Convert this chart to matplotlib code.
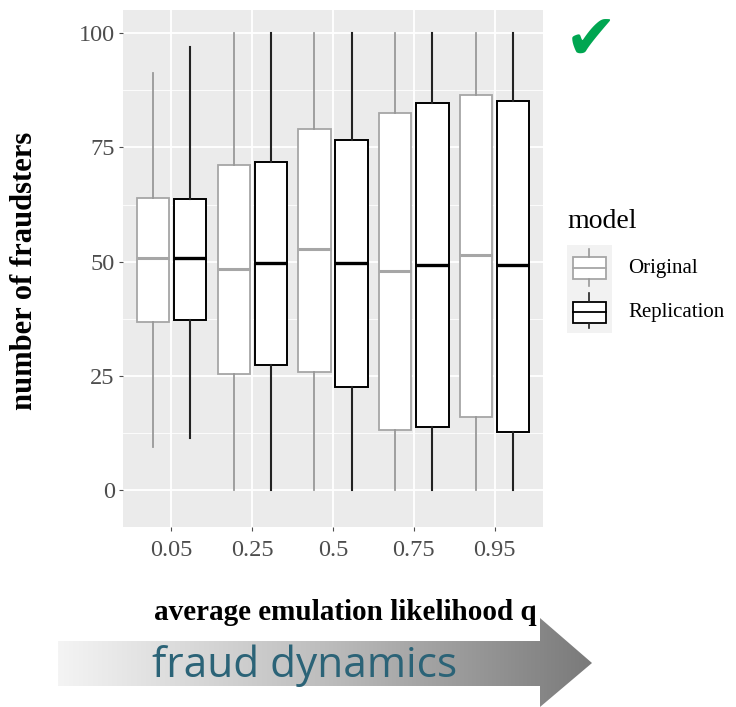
import numpy as np
import matplotlib
matplotlib.use("Agg")
import matplotlib.pyplot as plt
from matplotlib.patches import Rectangle, Polygon
from matplotlib.colors import LinearSegmentedColormap

# boxplot summaries
q_labels = ['0.05', '0.25', '0.5', '0.75', '0.95']
orig_whishi = [91.3, 100, 100, 100, 100]
orig_q3 = [64.0, 71.2, 79.0, 82.6, 86.4]
orig_med = [50.7, 48.4, 52.8, 47.9, 51.4]
orig_q1 = [36.8, 25.3, 25.8, 13.2, 15.9]
orig_whislo = [9.4, 0, 0, 0, 0]

rep_whishi = [97.0, 100, 100, 100, 100]
rep_q3 = [63.8, 71.9, 76.6, 84.7, 85.1]
rep_med = [50.8, 49.8, 49.6, 49.2, 49.2]
rep_q1 = [37.2, 27.4, 22.6, 13.9, 12.8]
rep_whislo = [11.4, 0, 0, 0, 0]

SERIF = ['Liberation Serif', 'DejaVu Serif']
GREY = '#a6a6a6'
GREY_W = '#999999'


def make_stats(lo, q1, med, q3, hi):
    return [dict(whislo=a, q1=b, med=c, q3=d, whishi=e)
            for a, b, c, d, e in zip(lo, q1, med, q3, hi)]


fig = plt.figure(figsize=(7.36, 7.07), dpi=100)
ax = fig.add_axes([123 / 736, 180 / 707, 420 / 736, 517 / 707])
ax.set_facecolor('#ebebeb')

pos = np.arange(len(q_labels))
off = 0.23
width = 0.4

ax.bxp(make_stats(orig_whislo, orig_q1, orig_med, orig_q3, orig_whishi),
       positions=pos - off, widths=width, showfliers=False, showcaps=False,
       patch_artist=True,
       boxprops=dict(facecolor='white', edgecolor=GREY, linewidth=1.3),
       medianprops=dict(color=GREY, linewidth=2.2),
       whiskerprops=dict(color=GREY_W, linewidth=1.3), zorder=3)
ax.bxp(make_stats(rep_whislo, rep_q1, rep_med, rep_q3, rep_whishi),
       positions=pos + off, widths=width, showfliers=False, showcaps=False,
       patch_artist=True,
       boxprops=dict(facecolor='white', edgecolor='black', linewidth=1.4),
       medianprops=dict(color='black', linewidth=2.4),
       whiskerprops=dict(color='#222222', linewidth=1.5), zorder=3)

ax.set_xlim(-0.6, len(q_labels) - 0.4)
ax.set_ylim(-8.1, 105.1)
ax.set_xticks(pos)
ax.set_xticklabels(q_labels)
ax.set_yticks([0, 25, 50, 75, 100])
ax.set_yticks([12.5, 37.5, 62.5, 87.5], minor=True)
ax.grid(True, which='major', color='white', linewidth=1.3, zorder=0)
ax.grid(True, which='minor', axis='y', color='white', linewidth=0.6, zorder=0)
ax.set_axisbelow(True)
for s in ax.spines.values():
    s.set_visible(False)
ax.tick_params(which='major', length=3, width=0.8, color='#4d4d4d',
               labelcolor='#4d4d4d', labelsize=17.5, pad=3)
ax.tick_params(axis='x', pad=6)
ax.tick_params(which='minor', length=0)
for lab in ax.get_xticklabels() + ax.get_yticklabels():
    lab.set_family(SERIF)

ax.set_ylabel('number of fraudsters', family=SERIF, fontweight='bold',
              fontsize=22)
ax.yaxis.set_label_coords(-0.2, 0.495)
ax.set_xlabel('average emulation likelihood q', family=SERIF,
              fontweight='bold', fontsize=21)
ax.xaxis.set_label_coords(0.53, -0.14)

# overlay in pixel coordinates for legend, tick mark and arrow
ov = fig.add_axes([0, 0, 1, 1], zorder=-1)
ov.set_xlim(0, 736)
ov.set_ylim(707, 0)
ov.axis('off')

# legend
ov.text(567, 221, 'model', family=SERIF, fontsize=20, va='center',
        ha='left')
ov.add_patch(Rectangle((567, 245), 45, 88, color='#f2f2f2', lw=0))
keys = [('Original', GREY, GREY_W, 257, 279, 268, 249, 286),
        ('Replication', 'black', '#222222', 302, 323, 312, 293, 328)]
for name, ec, wc, top, bot, med, wtop, wbot in keys:
    ov.plot([589, 589], [wtop, top], color=wc, lw=1.2)
    ov.plot([589, 589], [bot, wbot], color=wc, lw=1.2)
    ov.add_patch(Rectangle((573, top), 33, bot - top, facecolor='white',
                           edgecolor=ec, lw=1.3))
    ov.plot([573, 606], [med, med], color=ec, lw=1.3)
    ov.text(628, (top + bot) / 2, name, family=SERIF, fontsize=15,
            va='center', ha='left')

# green check mark
ov.text(591, 43, '\u2714', family='DejaVu Sans', fontsize=45,
        color='#00a651', ha='center', va='center')

# gradient arrow
arrow = Polygon([(58, 641), (540, 641), (540, 618), (592, 663), (540, 707),
                 (540, 686), (58, 686)], closed=True, facecolor='none',
                edgecolor='none')
ov.add_patch(arrow)
cmap = LinearSegmentedColormap.from_list('g', ['#f4f4f4', '#bdbdbd',
                                               '#7a7a7a'])
grad = np.linspace(0, 1, 256).reshape(1, -1)
img = ov.imshow(grad, cmap=cmap, extent=[58, 592, 707, 618], aspect='auto')
img.set_clip_path(arrow)
ov.set_xlim(0, 736)
ov.set_ylim(707, 0)
fig.text(152 / 736, 1 - 677 / 707, 'fraud dynamics', family='Open Sans',
         fontsize=30.5, color='#2b6377', ha='left', va='baseline')

fig.savefig('out.png', dpi=100, facecolor='white')
